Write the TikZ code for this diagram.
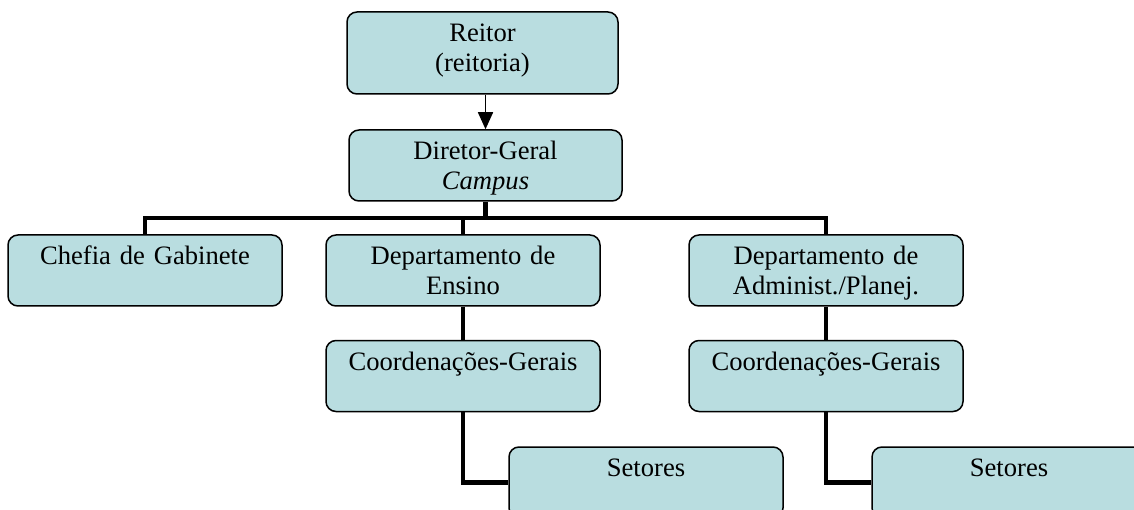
\documentclass[tikz,border=0pt]{standalone}
\usepackage{fontspec}
\setmainfont{Liberation Serif}
\usetikzlibrary{arrows.meta}
\definecolor{boxfill}{RGB}{185,221,224}

\begin{document}
\begin{tikzpicture}[x=1pt,y=-1pt,
    box/.style={draw,line width=1.5pt,rounded corners=10pt,fill=boxfill,
      inner sep=0pt,align=center,text width=274pt,
      text height=29.5pt,text depth=41.5pt,
      font=\fontsize{26.6pt}{30.5pt}\selectfont},
    tree/.style={line width=4.5pt}]
    \useasboundingbox (0,0) rectangle (1134,510);
    \clip (0,0) rectangle (1134,510);

    \node (reitor) at (482.5,53) [box,text width=271pt,text depth=52.5pt] {Reitor\\(reitoria)};
    \node (diretor) at (485.5,165.5) [box,text width=273pt] {Diretor-Geral\\\textit{Campus}};

    \node (chefia) at (145,270.5) [box] {Chefia de Gabinete};
    \node (ensino) at (463,270.5) [box] {Departamento de\\Ensino};
    \node (admin) at (826,270.5) [box] {Departamento de\\Administ./Planej.};

    \node (coordE) at (463,376) [box] {Coordenações-Gerais};
    \node (coordA) at (826,376) [box] {Coordenações-Gerais};

    \node (setoresE) at (646,482.5) [box] {Setores};
    \node (setoresA) at (1009,482.5) [box] {Setores};

    \coordinate (bus) at (0,218);

    \draw[line width=1.5pt,-{Triangle[width=15pt,length=17pt]}]
    (reitor.south -| diretor.north) to (diretor.north);

    \draw[tree]
    (chefia.north) |- (bus -| admin.north) to (admin.north)
    (diretor.south) to (diretor.south |- bus)
    (ensino.north) to (ensino.north |- bus);

    \draw[tree]
    (ensino.south) to (coordE.north)
    (admin.south) to (coordA.north)
    (coordE.south) |- (setoresE.west)
    (coordA.south) |- (setoresA.west);
\end{tikzpicture}
\end{document}
